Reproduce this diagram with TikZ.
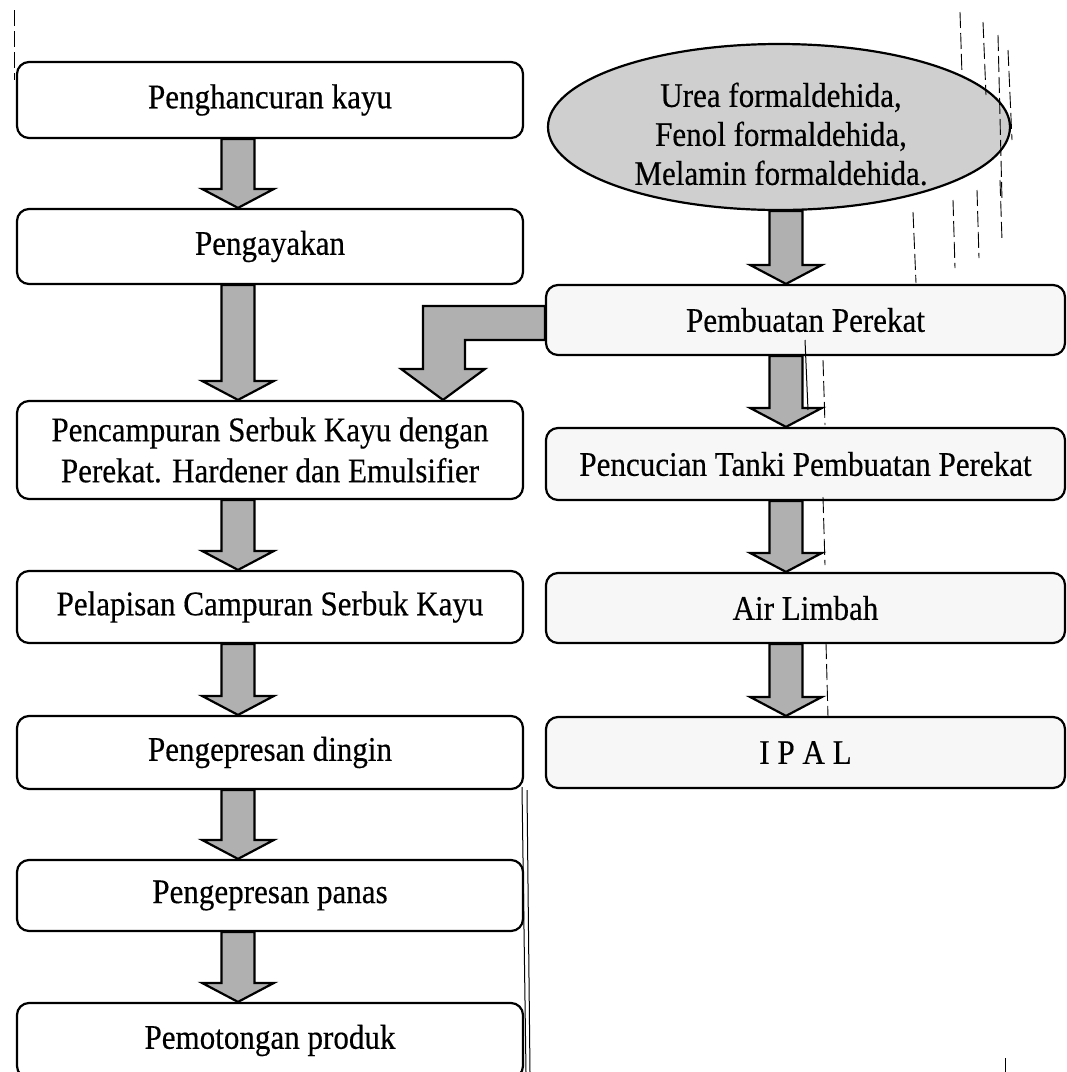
\documentclass[tikz,border=0pt]{standalone}
\usepackage{fontspec}
\setmainfont{Liberation Serif}[FakeStretch=0.9,FakeBold=0.4]
\usetikzlibrary{calc,shapes.geometric}
\begin{document}
\begin{tikzpicture}[x=1pt,y=-1pt,
  box/.style={draw,line width=2.2pt,rounded corners=12pt,align=center,inner sep=0pt,
    font=\fontsize{34.5}{41}\selectfont},
  lbox/.style={box,minimum width=506pt,fill=white},
  rbox/.style={box,minimum width=519pt,fill=gray!6},
  oval/.style={ellipse,draw,line width=2.2pt,fill=gray!38,minimum width=462pt,
    minimum height=166pt,inner sep=0pt},
  ovaltext/.style={align=center,inner sep=0pt,font=\fontsize{34.5}{39}\selectfont},
  barrow/.style={draw,line width=2.2pt,fill=gray!62,line join=miter},
  scan/.style={line width=0.9pt,dash pattern=on 16pt off 5pt},
  scanline/.style={line width=1pt}
]
\useasboundingbox (0,0) rectangle (1067,1072);
\fill[white] (0,0) rectangle (1067,1072);

% left column
\node[lbox,minimum height=76pt] (b1) at (270,100) {Penghancuran kayu};
\node[lbox,minimum height=75pt] (b2) at (270,246.5) {Pengayakan};
\node[lbox,minimum height=98pt] (b3) at (270,450) {Pencampuran Serbuk Kayu dengan\\Perekat. Hardener dan Emulsifier};
\node[lbox,minimum height=72pt] (b4) at (270,607) {Pelapisan Campuran Serbuk Kayu};
\node[lbox,minimum height=73pt] (b5) at (270,752.5) {Pengepresan dingin};
\node[lbox,minimum height=71pt] (b6) at (270,895.5) {Pengepresan panas};
\node[lbox,minimum height=75pt] (b7) at (270,1040.5) {Pemotongan produk};

% right column
\node[oval] (e) at (779,127) {};
\node[ovaltext] (et) at (781,134) {Urea formaldehida,\\Fenol formaldehida,\\Melamin formaldehida.};
\node[rbox,minimum height=70pt] (r1) at (805.5,320) {Pembuatan Perekat};
\node[rbox,minimum height=72pt] (r2) at (805.5,464) {Pencucian Tanki Pembuatan Perekat};
\node[rbox,minimum height=70pt] (r3) at (805.5,608) {Air Limbah};
\node[rbox,minimum height=71pt] (r4) at (805.5,752.5) {I P A L};

% block arrows
\newcommand\blockarrow[3]{%
  \path (#3 |- #1.south) coordinate (s) (#3 |- #2.north) coordinate (t);
  \draw[barrow] ($(s)+(-16.5,0)$) -- ($(t)+(-16.5,-19)$) -- ($(t)+(-36,-19)$) -- (t)
    -- ($(t)+(36,-19)$) -- ($(t)+(16.5,-19)$) -- ($(s)+(16.5,0)$) -- cycle;
}
\coordinate (lx) at (238,0);
\coordinate (rx) at (786,0);
\blockarrow{b1}{b2}{lx}
\blockarrow{b2}{b3}{lx}
\blockarrow{b3}{b4}{lx}
\blockarrow{b4}{b5}{lx}
\blockarrow{b5}{b6}{lx}
\blockarrow{b6}{b7}{lx}
\blockarrow{e}{r1}{rx}
\blockarrow{r1}{r2}{rx}
\blockarrow{r2}{r3}{rx}
\blockarrow{r3}{r4}{rx}

% bent arrow from Pembuatan Perekat to the mixing step
\coordinate (bx) at (443,0);
\path (bx |- b3.north) coordinate (bt);
\coordinate (p1) at ($(r1.west)+(0,-14)$);
\coordinate (p2) at ($(r1.west)+(0,20)$);
\coordinate (bl) at ($(bt)+(-20,-31)$);
\coordinate (br) at ($(bt)+(22,-31)$);
\draw[barrow] (p1) -- (bl |- p1) -- (bl) -- ($(bl)+(-22,0)$) -- (bt)
  -- ($(br)+(20,0)$) -- (br) -- (br |- p2) -- (p2) -- cycle;

% scan marks
\draw[scan] (14,10) -- (14,80);
\draw[scan] (960,12) -- (962,75);
\draw[scan] (983,22) -- (986,95);
\draw[scan] (998,35) -- (1002,200);
\draw[scan] (1008,50) -- (1012,140);
\draw[scan] (913,212) -- (916,283);
\draw[scan] (953,200) -- (955,268);
\draw[scan] (977,190) -- (979,258);
\draw[scan] (1000,180) -- (1002,240);
\draw[scanline] (805,340) -- (808,410);
\draw[scan] (823,360) -- (825,425);
\draw[scan] (823,497) -- (825,565);
\draw[scan] (826,643) -- (828,717);
\draw[scanline] (522,787) -- (526,1072);
\draw[scanline] (527,790) -- (530,1072);
\draw[scanline] (1005,1058) -- (1005,1072);
\end{tikzpicture}
\end{document}
